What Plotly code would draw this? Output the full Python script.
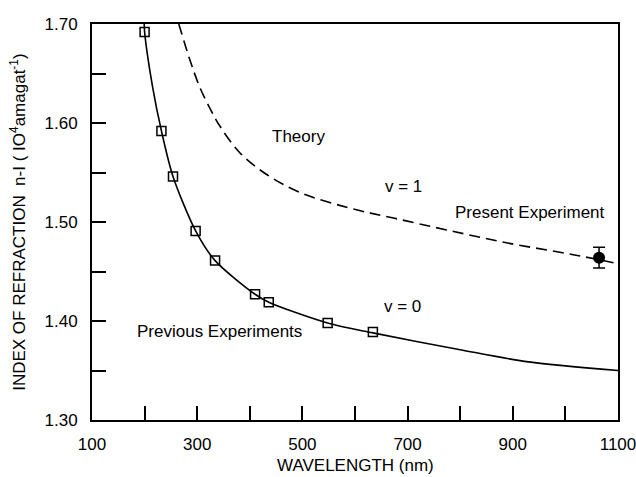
import plotly.graph_objects as go

# v = 0 measured points (previous experiments)
prev_wl = [200, 232, 254, 297, 334, 410, 436, 548, 634]
prev_n = [1.692, 1.592, 1.546, 1.491, 1.461, 1.427, 1.419, 1.398, 1.389]

# v = 0 fitted curve (solid)
v0_wl = [199.3, 200, 215, 232, 254, 297, 334, 410, 436, 548, 634, 800, 926, 1100]
v0_n = [1.700, 1.692, 1.637, 1.592, 1.546, 1.491, 1.461, 1.427, 1.419, 1.398, 1.388, 1.371, 1.359, 1.350]

# v = 1 theory curve (dashed)
v1_wl = [265, 286, 305, 325, 343, 381, 432, 495, 590, 673, 774, 888, 1015, 1100]
v1_n = [1.700, 1.664, 1.636, 1.614, 1.597, 1.570, 1.548, 1.530, 1.514, 1.504, 1.492, 1.479, 1.467, 1.458]

# present experiment
pres_wl = [1064]
pres_n = [1.464]
pres_err = [0.0105]

# axis ticks and titles
x_ticks = [100, 300, 500, 700, 900, 1100]
y_ticks = [1.30, 1.40, 1.50, 1.60, 1.70]
x_title = "WAVELENGTH (nm)"
y_title = "INDEX OF REFRACTION  n-I ( IO<sup>4</sup>amagat<sup>-1</sup>)"

FONT = "Liberation Sans, Arial, Helvetica, sans-serif"

fig = go.Figure()
fig.add_trace(go.Scatter(x=v0_wl, y=v0_n, mode="lines", line=dict(color="black", width=1.6, shape="spline", smoothing=0.8),
                         showlegend=False, hoverinfo="skip"))
fig.add_trace(go.Scatter(x=v1_wl, y=v1_n, mode="lines", line=dict(color="black", width=1.6, dash="11px,6px", shape="spline", smoothing=1.0),
                         showlegend=False, hoverinfo="skip"))
fig.add_trace(go.Scatter(x=prev_wl, y=prev_n, mode="markers",
                         marker=dict(symbol="square-open", size=9, color="black", line=dict(width=1.5, color="black")),
                         showlegend=False))
fig.add_trace(go.Scatter(x=pres_wl, y=pres_n, mode="markers",
                         marker=dict(symbol="circle", size=12, color="black"),
                         error_y=dict(type="data", array=pres_err, color="black", thickness=1.5, width=6),
                         showlegend=False))

annots = [
    ("Theory", 492, 1.586),
    ("v = 1", 692, 1.536),
    ("Present Experiment", 933, 1.510),
    ("v = 0", 691, 1.415),
    ("Previous Experiments", 342, 1.389),
]
for txt, ax, ay in annots:
    fig.add_annotation(x=ax, y=ay, text=txt, showarrow=False, xref="x", yref="y",
                       font=dict(family=FONT, size=17, color="black"))

# axis titles
fig.add_annotation(x=0.5, y=-0.114, xref="paper", yref="paper", text=x_title, showarrow=False,
                   xanchor="center", yanchor="middle", font=dict(family=FONT, size=17, color="black"))
fig.add_annotation(x=-0.141, y=0.5, xref="paper", yref="paper", text=y_title, showarrow=False,
                   textangle=-90, xanchor="center", yanchor="middle", font=dict(family=FONT, size=17, color="black"))

fig.update_layout(
    width=636, height=477,
    margin=dict(l=92, r=18, t=24, b=57, autoexpand=False),
    paper_bgcolor="white", plot_bgcolor="white",
    font=dict(family=FONT, size=17, color="black"),
)
fig.update_xaxes(
    range=[100, 1100], tickvals=x_ticks, ticktext=[str(v) for v in x_ticks],
    ticks="inside", ticklen=14, tickwidth=1.5, tickcolor="black",
    minor=dict(dtick=100, tick0=100, ticks="inside", ticklen=14, tickwidth=1.5, tickcolor="black", showgrid=False),
    showline=True, linecolor="black", linewidth=1.8, mirror=True, showgrid=False, zeroline=False,
    tickfont=dict(size=17), automargin=False, ticklabeloverflow="allow",
    ticklabelstandoff=8,
)
fig.update_yaxes(
    range=[1.30, 1.70], tickvals=y_ticks, ticktext=["%.2f" % v for v in y_ticks],
    ticks="inside", ticklen=14, tickwidth=1.5, tickcolor="black",
    minor=dict(dtick=0.05, tick0=1.30, ticks="inside", ticklen=14, tickwidth=1.5, tickcolor="black", showgrid=False),
    showline=True, linecolor="black", linewidth=1.8, mirror=True, showgrid=False, zeroline=False,
    tickfont=dict(size=17), automargin=False, ticklabeloverflow="allow",
    ticklabelstandoff=9,
)

fig.write_html("out.html")
